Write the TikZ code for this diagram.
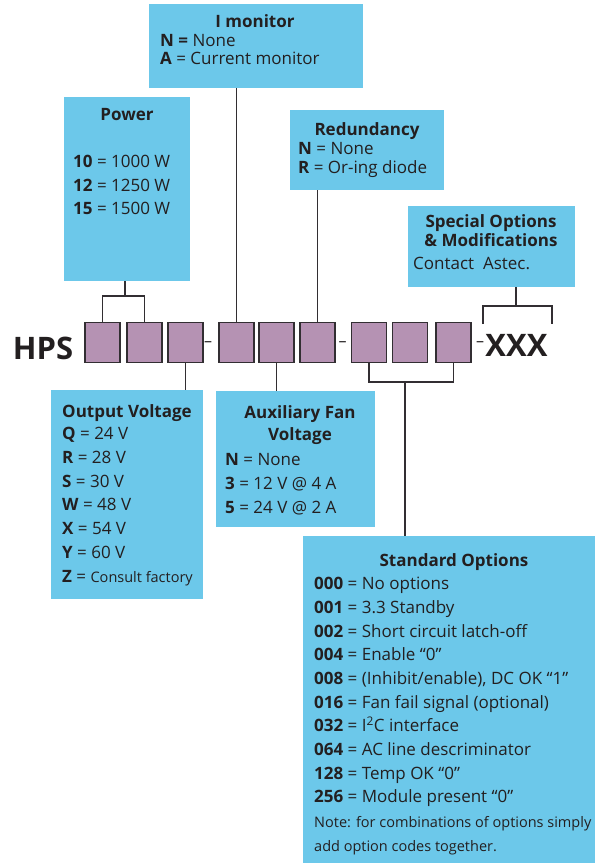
\documentclass[tikz,border=0pt]{standalone}
\usepackage{fontspec}
\setmainfont{Open Sans}
\usepackage{tikz}
\definecolor{boxblue}{RGB}{108,200,234}
\definecolor{codepurple}{RGB}{181,146,179}
\definecolor{linegray}{RGB}{50,46,50}
\definecolor{inkgray}{RGB}{35,31,32}
\begin{document}
\begin{tikzpicture}[x=1pt, y=-1pt,
info_box/.style={fill=boxblue, draw=none, inner sep=0pt, anchor=north west},
code_box/.style={draw=linegray, fill=codepurple, line width=1.4pt, minimum width=35pt, minimum height=40pt, inner sep=0pt},
link_style/.style={draw=linegray, line width=1.4pt},
head_text/.style={font=\bfseries\fontsize{17}{19}\selectfont, text=inkgray, inner sep=0pt, anchor=base},
row_text/.style={font=\fontsize{17}{#1}\selectfont, text=inkgray, align=left, inner sep=0pt, anchor=north west},
big_text/.style={font=\bfseries\fontsize{31}{31}\selectfont, text=inkgray, inner sep=0pt},
dash_text/.style={font=\fontsize{16}{16}\selectfont, text=inkgray, inner sep=0pt, anchor=base}]
\useasboundingbox (0,0) rectangle (601,865);

\node[info_box, minimum width=214pt, minimum height=84pt] (imon) at (149,4) {};
\node[info_box, minimum width=126pt, minimum height=184pt] (power) at (64,97) {};
\node[info_box, minimum width=154pt, minimum height=80pt] (red) at (290,110) {};
\node[info_box, minimum width=167pt, minimum height=81pt] (spec) at (408,206) {};
\node[info_box, minimum width=152pt, minimum height=209pt] (out) at (51,390) {};
\node[info_box, minimum width=159pt, minimum height=136pt] (fan) at (216,391) {};
\node[info_box, minimum width=292pt, minimum height=327pt] (std) at (303,536) {};

\node[head_text] (imon_head) at (255,27) {I monitor};
\node[row_text=18.5pt] (imon_rows) at (160,34) {\textbf{N =} None\\\textbf{A} = Current monitor};

\node[head_text] (power_head) at (127,120) {Power};
\node[row_text=23.5pt] (power_rows) at (73,155) {\textbf{10} = 1000 W\\\textbf{12} = 1250 W\\\textbf{15} = 1500 W};

\node[head_text] (red_head) at (367,135) {Redundancy};
\node[row_text=19pt] (red_rows) at (298,142) {\textbf{N} = None\\\textbf{R} = Or-ing diode};

\node[head_text, align=center, anchor=north] (spec_head) at (491,214) {Special Options\\\& Modifications};
\node[row_text=19pt, anchor=base west] (spec_rows) at (413,269) {Contact~ Astec.};

\node[head_text] (out_head) at (127,417) {Output Voltage};
\node[row_text=23.8pt] (out_rows) at (62,427) {\textbf{Q} = 24 V\\\textbf{R} = 28 V\\\textbf{S} = 30 V\\\textbf{W} = 48 V\\\textbf{X} = 54 V\\\textbf{Y} = 60 V\\\textbf{Z} = {\fontsize{14.5}{17}\selectfont Consult factory}};

\node[head_text, align=center, anchor=north, font=\bfseries\fontsize{17}{22}\selectfont] (fan_head) at (300,405.5) {Auxiliary Fan\\Voltage};
\node[row_text=24pt] (fan_rows) at (225,453) {\textbf{N} = None\\\textbf{3} = 12 V @ 4 A\\\textbf{5} = 24 V @ 2 A};

\node[head_text] (std_head) at (454,566) {Standard Options};
\node[row_text=23.7pt] (std_rows) at (314,577) {\textbf{000} = No options\\\textbf{001} = 3.3 Standby\\\textbf{002} = Short circuit latch-off\\\textbf{004} = Enable “0”\\\textbf{008} = (Inhibit/enable), DC OK “1”\\\textbf{016} = Fan fail signal (optional)\\\textbf{032} = I\textsuperscript{2}C interface\\\textbf{064} = AC line descriminator\\\textbf{128} = Temp OK “0”\\\textbf{256} = Module present “0”};
\node[row_text=23.5pt, font=\fontsize{14.5}{23.5}\selectfont] (std_note) at (314,816.5) {Note: for combinations of options simply\\add option codes together.};

\node[big_text] (hps) at (43,348) {HPS};
\node[code_box] (code1) at (102.5,342.5) {};
\node[code_box] (code2) at (144.5,342.5) {};
\node[code_box] (code3) at (185.5,342.5) {};
\node[dash_text] (dash1) at (208,346.5) {–};
\node[code_box] (code4) at (236.5,342.5) {};
\node[code_box] (code5) at (276.5,342.5) {};
\node[code_box] (code6) at (317.5,342.5) {};
\node[dash_text] (dash2) at (342.5,346.5) {–};
\node[code_box] (code7) at (369,342.5) {};
\node[code_box] (code8) at (410,342.5) {};
\node[code_box] (code9) at (453.5,342.5) {};
\node[dash_text] (dash3) at (480,346.5) {–};
\node[big_text] (xxx) at (516.5,345) {XXX};

\coordinate (power_fork) at (125,296);
\coordinate (spec_fork) at (516,306);
\coordinate (spec_left) at (483,324);
\coordinate (spec_right) at (552,324);
\coordinate (std_fork) at (405,382);

\draw[link_style] (power_fork |- power.south) -- (power_fork);
\draw[link_style] (code1.north) |- (power_fork) -| (code2.north);
\draw[link_style] (code4.north) -- (code4.north |- imon.south);
\draw[link_style] (code6.north) -- (code6.north |- red.south);
\draw[link_style] (spec_fork |- spec.south) -- (spec_fork);
\draw[link_style] (spec_left) |- (spec_fork) -| (spec_right);
\draw[link_style] (code3.south) -- (code3.south |- out.north);
\draw[link_style] (code5.south) -- (code5.south |- fan.north);
\draw[link_style] (code7.south) |- (std_fork) -| (code9.south);
\draw[link_style] (std_fork) -- (std_fork |- std.north);

\end{tikzpicture}
\end{document}
